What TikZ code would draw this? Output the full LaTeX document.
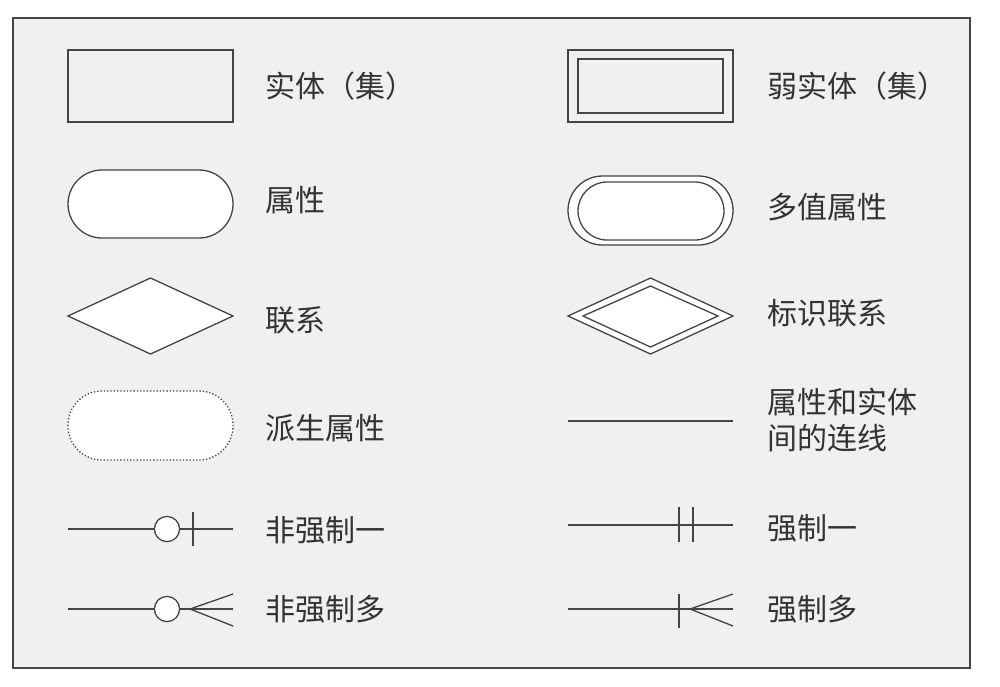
\documentclass[tikz,border=0pt]{standalone}
\usepackage{fontspec}
\newfontfamily\cjk{Noto Sans CJK SC}
\definecolor{panel}{HTML}{F0F0F0}
\definecolor{ink}{HTML}{454545}
\tikzset{
  legendtext/.style={anchor=west, inner sep=0pt, text=black!80, align=left,
    font=\cjk\fontsize{15}{18}\selectfont},
  outline/.style={draw=ink, line width=0.65pt},
  symbol/.style={outline, fill=white},
}

\begin{document}
\begin{tikzpicture}[x=0.5pt, y=-0.5pt]
    \useasboundingbox (0,0) rectangle (1000,686);
    % Panel
    \draw[fill=panel, draw=ink, line width=0.7pt] (13,18) rectangle (970,668);

    % Entity and weak entity
    \draw[outline] (68,50) rectangle (233,122);
    \node[legendtext] (entity) at (265,86) {实体（集）};
    \draw[outline] (568,50) rectangle (733,122);
    \draw[outline] (578,59) rectangle (723,113);
    \node[legendtext] (weakentity) at (767,86) {弱实体（集）};

    % Attribute and multi-valued attribute
    \draw[symbol, rounded corners=17pt] (68,170) rectangle (233,238);
    \node[legendtext] (attr) at (265,200) {属性};
    \draw[symbol, rounded corners=17.25pt] (568,176) rectangle (733,245);
    \draw[outline, rounded corners=14.5pt] (578,182) rectangle (724,240);
    \node[legendtext] (multiattr) at (767,207) {多值属性};

    % Relationship and identifying relationship
    \draw[symbol] (68,316) -- (150.5,278) -- (233,316) -- (150.5,354) -- cycle;
    \node[legendtext] (rel) at (265,320) {联系};
    \draw[symbol] (568,316) -- (650.5,278) -- (733,316) -- (650.5,354) -- cycle;
    \draw[outline] (583,316) -- (650.5,286) -- (718,316) -- (650.5,347) -- cycle;
    \node[legendtext] (identrel) at (767,313) {标识联系};

    % Derived attribute and link line
    \draw[fill=white, draw=ink, line width=0.65pt, densely dotted, rounded corners=17pt] (68,391) rectangle (233,460);
    \node[legendtext] (derived) at (265,428) {派生属性};
    \draw[outline] (568,421) -- (733,421);
    \node[legendtext] (link) at (767,420) {属性和实体\\间的连线};

    % Optional one / mandatory one
    \draw[outline] (68,529) -- (233,529);
    \draw[symbol] (167,529) circle[radius=6.3pt];
    \draw[outline] (193,512) -- (193,546);
    \node[legendtext] (optone) at (265,530) {非强制一};
    \draw[outline] (568,525) -- (733,525);
    \draw[outline] (679,507) -- (679,542);
    \draw[outline] (693,507) -- (693,542);
    \node[legendtext] (manone) at (767,528) {强制一};

    % Optional many / mandatory many
    \draw[outline] (68,609) -- (233,609);
    \draw[symbol] (167,609) circle[radius=6.3pt];
    \draw[outline] (190,609) -- (233,594);
    \draw[outline] (190,609) -- (233,626);
    \node[legendtext] (optmany) at (265,609) {非强制多};
    \draw[outline] (568,609) -- (733,609);
    \draw[outline] (679,594) -- (679,628);
    \draw[outline] (690,609) -- (733,594);
    \draw[outline] (690,609) -- (733,626);
    \node[legendtext] (manmany) at (767,609) {强制多};
\end{tikzpicture}
\end{document}
